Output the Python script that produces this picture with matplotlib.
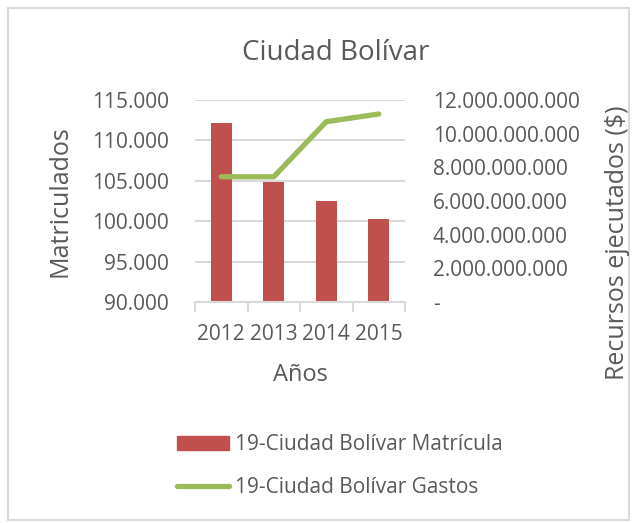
import matplotlib.pyplot as plt
from matplotlib.patches import Rectangle
from matplotlib.lines import Line2D
from matplotlib.ticker import FuncFormatter, FixedLocator

years = ["2012", "2013", "2014", "2015"]
matricula = [112100, 104850, 102500, 100230]
gastos = [7.44e9, 7.44e9, 10.71e9, 11.17e9]

TXT = "#595959"
GRID = "#d9d9d9"
W, H = 632, 523
plt.rcParams["font.family"] = ["Open Sans", "DejaVu Sans"]


def miles(v, pos=None):
    if v == 0:
        return "-"
    return f"{v:,.0f}".replace(",", ".")


fig = plt.figure(figsize=(W / 100, H / 100), dpi=100)
# marco gris del grafico
fig.patches.append(Rectangle((8 / W, 3 / H), 621 / W, 512 / H,
                             transform=fig.transFigure, fill=False,
                             edgecolor=GRID, linewidth=1.5))

ax = fig.add_axes([195 / W, 1 - 302 / H, 210 / W, 202 / H])
x = list(range(len(years)))
ax.bar(x, matricula, width=0.4, color="#c0504d", zorder=2)
ax.set_ylim(90000, 115000)
ax.set_xlim(-0.5, 3.5)
ax.set_yticks([90000, 95000, 100000, 105000, 110000, 115000])
ax.yaxis.set_major_formatter(FuncFormatter(miles))
ax.grid(axis="y", color=GRID, linewidth=1.5, zorder=0)
ax.set_xticks(x)
ax.set_xticklabels(years)
ax.xaxis.set_minor_locator(FixedLocator([-0.5, 0.5, 1.5, 2.5, 3.5]))
ax.tick_params(axis="x", which="major", length=0, pad=16, labelsize=15, labelcolor=TXT)
ax.tick_params(axis="x", which="minor", length=7, color=GRID, width=1.5)
ax.tick_params(axis="y", length=0, pad=19, labelsize=15, labelcolor=TXT)
for s in ["top", "left", "right"]:
    ax.spines[s].set_visible(False)
ax.spines["bottom"].set_color(GRID)
ax.spines["bottom"].set_linewidth(1.5)

ax2 = ax.twinx()
ax2.plot(x, gastos, color="#9bbb59", linewidth=3.8, solid_capstyle="round", zorder=3)
ax2.set_ylim(0, 12e9)
ax2.set_yticks([0, 2e9, 4e9, 6e9, 8e9, 10e9, 12e9])
ax2.yaxis.set_major_formatter(FuncFormatter(miles))
ax2.tick_params(axis="y", length=0, pad=20, labelsize=15, labelcolor=TXT)
for s in ["top", "left", "right", "bottom"]:
    ax2.spines[s].set_visible(False)

fig.text(336 / W, 1 - 60 / H, "Ciudad Bolívar", ha="center", va="baseline",
         fontsize=20, color=TXT)
fig.text(60 / W, 1 - 201 / H, "Matriculados", rotation=90, ha="center",
         va="center", fontsize=18, color=TXT)
fig.text(617 / W, 1 - 243 / H, "Recursos ejecutados ($)", rotation=90,
         ha="center", va="center", fontsize=18, color=TXT)
fig.text(300 / W, 1 - 381 / H, "Años", ha="center", va="baseline",
         fontsize=17, color=TXT)

handles = [Rectangle((0, 0), 1, 1, color="#c0504d"),
           Line2D([0], [0], color="#9bbb59", linewidth=3.8, solid_capstyle="round")]
fig.legend(handles, ["19-Ciudad Bolívar Matrícula", "19-Ciudad Bolívar Gastos"],
           loc="center left", bbox_to_anchor=(177 / W, 1 - 466 / H), frameon=False,
           borderpad=0, borderaxespad=0, fontsize=15, labelcolor=TXT,
           handlelength=2.5, handleheight=0.67, handletextpad=0.29,
           labelspacing=1.04)

fig.savefig("out.png", dpi=100)
